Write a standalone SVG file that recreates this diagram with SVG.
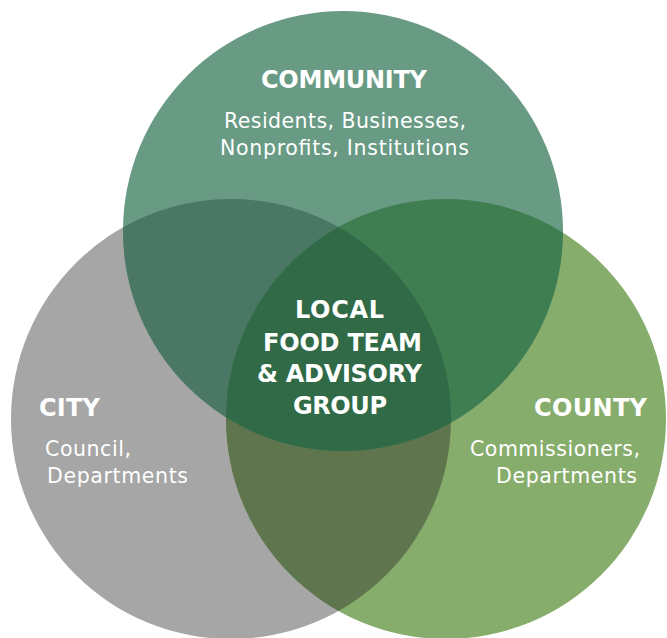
<svg xmlns="http://www.w3.org/2000/svg" width="667" height="638" viewBox="0 0 667 638">
  <style>
    .h { font-family: "DejaVu Sans", "Liberation Sans", sans-serif; font-weight: 700; font-size: 24px; fill: #ffffff; }
    .s { font-family: "DejaVu Sans", "Liberation Sans", sans-serif; font-weight: 400; font-size: 20.5px; fill: #ffffff; }
  </style>
  <defs>
    <clipPath id="clipCity"><circle cx="231" cy="419" r="220"/></clipPath>
    <clipPath id="clipCounty"><circle cx="446" cy="419" r="220"/></clipPath>
  </defs>
  <rect width="667" height="638" fill="#ffffff"/>

  <g id="city">
    <circle cx="231" cy="419" r="220" fill="#a6a6a6"/>
  </g>
  <g id="county">
    <circle cx="446" cy="419" r="220" fill="#87ad6c"/>
  </g>
  <g id="community">
    <circle cx="343" cy="231" r="220" fill="#689a84"/>
  </g>

  <g id="overlaps">
    <circle cx="446" cy="419" r="220" fill="#5e754d" clip-path="url(#clipCity)"/>
    <circle cx="343" cy="231" r="220" fill="#4a7864" clip-path="url(#clipCity)"/>
    <circle cx="343" cy="231" r="220" fill="#3e7e51" clip-path="url(#clipCounty)"/>
    <g id="local-food-team" clip-path="url(#clipCity)">
      <circle cx="343" cy="231" r="220" fill="#306a47" clip-path="url(#clipCounty)"/>
    </g>
  </g>

  <g id="community-label">
    <text class="h" x="261" y="88" textLength="166" lengthAdjust="spacing">COMMUNITY</text>
    <text class="s" x="224" y="128" textLength="242" lengthAdjust="spacing">Residents, Businesses,</text>
    <text class="s" x="220" y="155" textLength="249" lengthAdjust="spacing">Nonprofits, Institutions</text>
  </g>
  <g id="center-label">
    <text class="h" x="295" y="318" textLength="89" lengthAdjust="spacing">LOCAL</text>
    <text class="h" x="263" y="350.5" textLength="159" lengthAdjust="spacing">FOOD TEAM</text>
    <text class="h" x="257" y="381.5" textLength="165" lengthAdjust="spacing">&amp; ADVISORY</text>
    <text class="h" x="293" y="414" textLength="94" lengthAdjust="spacing">GROUP</text>
  </g>
  <g id="city-label">
    <text class="h" x="39" y="416" textLength="61" lengthAdjust="spacing">CITY</text>
    <text class="s" x="45" y="456" textLength="86" lengthAdjust="spacing">Council,</text>
    <text class="s" x="47" y="483" textLength="141" lengthAdjust="spacing">Departments</text>
  </g>
  <g id="county-label">
    <text class="h" x="534" y="416" textLength="113" lengthAdjust="spacing">COUNTY</text>
    <text class="s" x="470" y="456" textLength="170" lengthAdjust="spacing">Commissioners,</text>
    <text class="s" x="496" y="483" textLength="141" lengthAdjust="spacing">Departments</text>
  </g>
</svg>
